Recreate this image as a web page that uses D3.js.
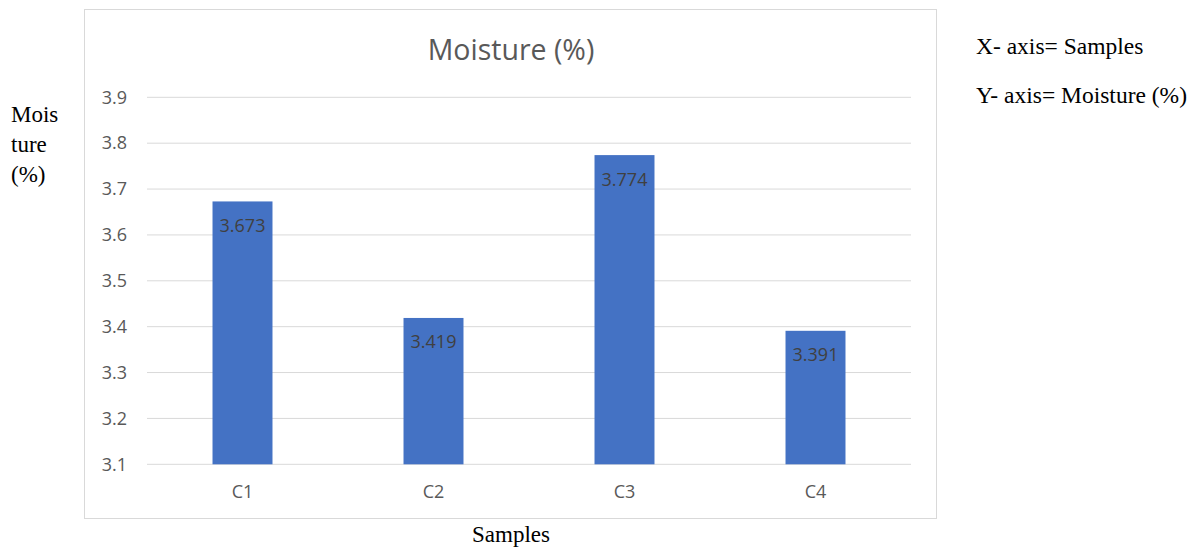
<!DOCTYPE html>
<html>
<head>
<meta charset="utf-8">
<script src="https://cdn.jsdelivr.net/npm/d3@7"></script>
<style>
  body { margin: 0; background: #fff; }
  svg { display: block; }
</style>
</head>
<body>
<svg id="canvas" width="1201" height="549"></svg>
<script>
// data
let samples = ['C1', 'C2', 'C3', 'C4']
let moisture = [3.673, 3.419, 3.774, 3.391]
let yTicks = [3.1, 3.2, 3.3, 3.4, 3.5, 3.6, 3.7, 3.8, 3.9]

let canvas = d3.select('#canvas')

let plot = { left: 147, right: 911, top: 97.3, bottom: 464.3 }
let sans = '"Open Sans", Lato, sans-serif'
let serif = '"Liberation Serif", "Times New Roman", serif'

// chart frame
canvas.append('rect')
    .attr('x', 84.5).attr('y', 9.5)
    .attr('width', 852).attr('height', 509)
    .attr('fill', '#fff')
    .attr('stroke', '#d9d9d9')

let x = d3.scaleBand()
    .domain(samples)
    .range([plot.left, plot.right])
    .paddingInner(0.686)
    .paddingOuter(0.343)

let y = d3.scaleLinear()
    .domain([3.1, 3.9])
    .range([plot.bottom, plot.top])

// gridlines
canvas.append('g')
    .selectAll('line')
    .data(yTicks)
    .enter()
    .append('line')
    .attr('x1', plot.left).attr('x2', plot.right)
    .attr('y1', d => y(d)).attr('y2', d => y(d))
    .attr('stroke', '#d9d9d9')
    .attr('stroke-width', 1)

// y axis labels
let yAxis = d3.axisLeft(y).tickValues(yTicks).tickFormat(d3.format('.1f')).tickSize(0).tickPadding(20)
let yg = canvas.append('g')
    .attr('transform', `translate(${plot.left},0)`)
    .call(yAxis)
yg.select('.domain').remove()
yg.selectAll('text')
    .attr('fill', '#595959')
    .style('font-family', sans)
    .style('font-size', '18px')

// bars
canvas.append('g')
    .selectAll('rect')
    .data(samples)
    .enter()
    .append('rect')
    .attr('x', d => x(d))
    .attr('y', (d, i) => y(moisture[i]))
    .attr('width', x.bandwidth())
    .attr('height', (d, i) => plot.bottom - y(moisture[i]))
    .attr('fill', '#4472c4')

// value labels inside bar tops
canvas.append('g')
    .selectAll('text')
    .data(samples)
    .enter()
    .append('text')
    .attr('x', d => x(d) + x.bandwidth() / 2)
    .attr('y', (d, i) => y(moisture[i]) + 30.5)
    .attr('text-anchor', 'middle')
    .attr('fill', '#404040')
    .style('font-family', sans)
    .style('font-size', '18px')
    .text((d, i) => moisture[i])

// x axis labels
let xAxis = d3.axisBottom(x).tickSize(0).tickPadding(20)
let xg = canvas.append('g')
    .attr('transform', `translate(0,${plot.bottom})`)
    .call(xAxis)
xg.select('.domain').remove()
xg.selectAll('text')
    .attr('fill', '#595959')
    .attr('dy', null)
    .attr('y', 34)
    .style('font-family', sans)
    .style('font-size', '18px')

// title
canvas.append('text')
    .attr('x', 511).attr('y', 60)
    .attr('text-anchor', 'middle')
    .attr('fill', '#595959')
    .style('font-family', sans)
    .style('font-size', '28.5px')
    .text('Moisture (%)')

// outside labels (document text)
canvas.append('text')
    .attr('x', 511).attr('y', 542)
    .attr('text-anchor', 'middle')
    .attr('fill', '#000')
    .style('font-family', serif)
    .style('font-size', '23px')
    .text('Samples')

let yLabel = ['Mois', 'ture', '(%)']
canvas.append('g')
    .selectAll('text')
    .data(yLabel)
    .enter()
    .append('text')
    .attr('x', 11)
    .attr('y', (d, i) => 122 + i * 30)
    .attr('fill', '#000')
    .style('font-family', serif)
    .style('font-size', '23px')
    .text(d => d)

let notes = ['X- axis= Samples', 'Y- axis= Moisture (%)']
canvas.append('g')
    .selectAll('text')
    .data(notes)
    .enter()
    .append('text')
    .attr('x', 976)
    .attr('y', (d, i) => 54 + i * 48.5)
    .attr('fill', '#000')
    .style('font-family', serif)
    .style('font-size', '23.5px')
    .text(d => d)
</script>
</body>
</html>
